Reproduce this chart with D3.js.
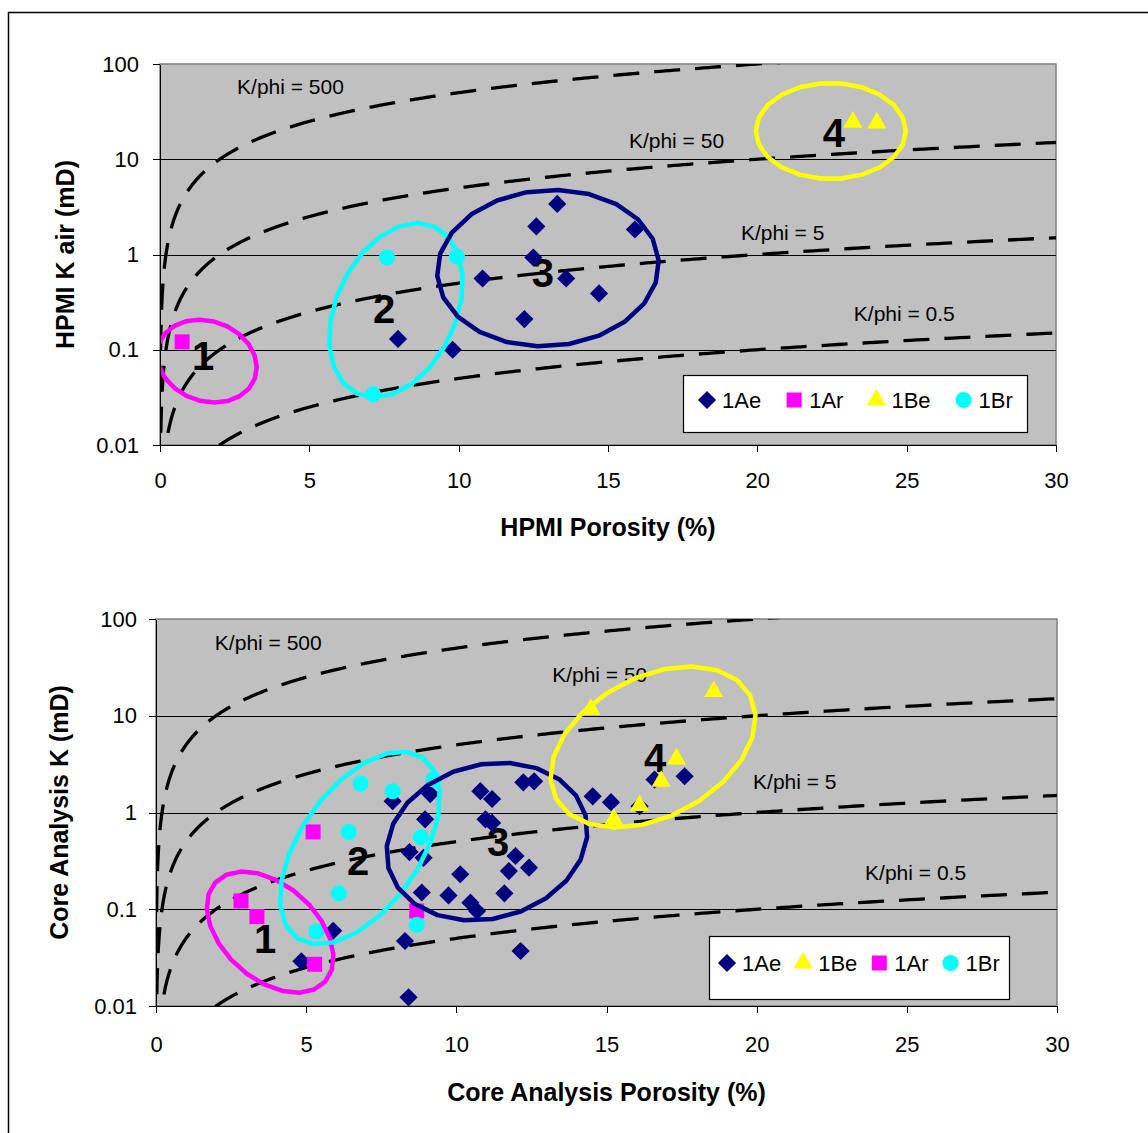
<!DOCTYPE html>
<html lang="en">
<head>
<meta charset="UTF-8">
<title>K vs porosity</title>
<script src="https://cdn.jsdelivr.net/npm/d3@7/dist/d3.min.js"></script>
<style>
  body { margin: 0; background: #fff; }
  svg { display: block; font-family: "Liberation Sans", Arial, sans-serif; }
  .axis path, .axis line { stroke: #000; shape-rendering: crispEdges; }
  .axis text { font-size: 22px; fill: #000; font-family: "Liberation Sans", Arial, sans-serif; }
</style>
</head>
<body>
<script>
var phiTicks = [0, 5, 10, 15, 20, 25, 30];
var kTicks = [0.01, 0.1, 1, 10, 100];
var kphiLevels = [500, 50, 5, 0.5];

// HPMI panel (top)
var hpmiAePhi = [7.97, 9.8, 10.8, 12.2, 12.5, 12.6, 13.3, 13.6, 14.7, 15.9];
var hpmiAeK   = [0.13, 0.1, 0.56, 0.21, 0.93, 1.97, 3.4, 0.56, 0.39, 1.83];
var hpmiArPhi = [0.74];
var hpmiArK   = [0.121];
var hpmiBePhi = [23.2, 24.0];
var hpmiBeK   = [24.5, 24];
var hpmiBrPhi = [7.6, 9.94, 7.13];
var hpmiBrK   = [0.93, 0.95, 0.034];

// Core analysis panel (bottom)
var coreAePhi = [7.88, 9.13, 8.96, 8.44, 8.91, 10.13, 8.85, 9.74, 10.47, 10.69, 5.9, 4.84, 8.29, 8.41,
                 10.8, 11.19, 10.97, 11.19, 12.23, 12.59, 11.97, 11.75, 12.42, 11.6, 12.14,
                 14.54, 15.15, 16.1, 16.6, 17.6];
var coreAeK   = [1.31, 1.55, 0.85, 0.39, 0.34, 0.23, 0.149, 0.139, 0.117, 0.096, 0.06, 0.029, 0.047, 0.0123,
                 1.66, 1.38, 0.85, 0.78, 2.05, 2.1, 0.355, 0.248, 0.269, 0.146, 0.037,
                 1.47, 1.28, 1.16, 2.19, 2.37];
var coreArPhi = [5.23, 2.83, 3.36, 5.28, 8.68];
var coreArK   = [0.63, 0.122, 0.084, 0.027, 0.096];
var coreBePhi = [14.48, 18.57, 17.33, 16.82, 16.1, 15.24];
var coreBeK   = [11.7, 17.8, 3.58, 2.1, 1.18, 0.85];
var coreBrPhi = [6.81, 7.88, 6.42, 6.09, 5.34, 8.82, 8.68, 9.24];
var coreBrK   = [1.99, 1.66, 0.63, 0.146, 0.059, 0.556, 0.069, 2.19];

// group rings: label, centre (phi, K)
var groupLabels = ["1", "2", "3", "4"];
var hpmiGroupPhi = [1.57, 7.9, 12.99, 22.46];
var hpmiGroupK   = [0.076, 0.26, 0.72, 19.8];
var hpmiNumPhi = [1.44, 7.5, 12.82, 22.56];
var hpmiNumK   = [0.086, 0.268, 0.65, 18.9];
var coreGroupPhi = [3.8, 6.79, 11.02, 16.55];
var coreGroupK   = [0.058, 0.43, 0.5, 4.75];
var coreNumPhi = [3.63, 6.73, 11.39, 16.62];
var coreNumK   = [0.05, 0.32, 0.5, 3.66];

// K/phi label anchors
var hpmiKphiPhi = [2.58, 15.7, 19.45, 23.23];
var hpmiKphiK   = [57.3, 15.6, 1.68, 0.237];
var coreKphiPhi = [1.96, 13.19, 19.88, 23.61];
var coreKphiK   = [56.5, 26.4, 2.07, 0.237];

var ringColors = ["#ff00ff", "#00ffff", "#000080", "#ffff00"];

var styles = {
  "1Ae": { type: "diamond", color: "#000080" },
  "1Ar": { type: "square", color: "#ff00ff" },
  "1Be": { type: "triangle", color: "#ffff00" },
  "1Br": { type: "circle", color: "#00ffff" }
};

var W = 1148, H = 1133;
var svg = d3.select("body").append("svg").attr("width", W).attr("height", H);

// outer frame
svg.append("rect").attr("x", 8.5).attr("y", 12.5).attr("width", 1200).attr("height", 1200)
  .attr("fill", "none").attr("stroke", "#000").attr("stroke-width", 1.5);

function zip(a, b) { return a.map(function(v, i) { return [v, b[i]]; }); }

function symbolPath(type) {
  if (type === "diamond") return d3.symbol(d3.symbolSquare, 165)();
  if (type === "square") return d3.symbol(d3.symbolSquare, 225)();
  if (type === "triangle") return d3.symbol(d3.symbolTriangle, 160)();
  return d3.symbol(d3.symbolCircle, 205)();
}

function drawPanel(p) {
  var g = svg.append("g");
  var x = d3.scaleLinear().domain([0, 30]).range([p.left, p.right]);
  var y = d3.scaleLog().domain([0.01, 100]).range([p.bottom, p.top]);

  g.append("rect").attr("x", p.left).attr("y", p.top)
    .attr("width", p.right - p.left).attr("height", p.bottom - p.top)
    .attr("fill", "#c0c0c0").attr("stroke", "#808080").attr("stroke-width", 1.5);

  g.selectAll(".grid").data([0.1, 1, 10]).enter().append("line")
    .attr("x1", p.left).attr("x2", p.right)
    .attr("y1", function(d) { return Math.round(y(d)) + 0.5; })
    .attr("y2", function(d) { return Math.round(y(d)) + 0.5; })
    .attr("stroke", "#000").attr("stroke-width", 1);

  g.append("clipPath").attr("id", p.id + "clip").append("rect")
    .attr("x", p.left).attr("y", p.top)
    .attr("width", p.right - p.left).attr("height", p.bottom - p.top);

  var plot = g.append("g").attr("clip-path", "url(#" + p.id + "clip)");

  // group numbers
  plot.selectAll(".num").data(groupLabels).enter().append("text")
    .attr("x", function(d, i) { return x(p.numPhi[i]); })
    .attr("y", function(d, i) { return y(p.numK[i]); })
    .attr("dy", "0.36em").attr("text-anchor", "middle")
    .attr("font-size", 40).attr("font-weight", "bold").attr("fill", "#000")
    .text(function(d) { return d; });

  // K/phi reference curves, K = c * phi(fraction)
  var phiSamples = d3.range(-3.2, 1.48, 0.004).map(function(e) { return Math.pow(10, e); });
  phiSamples.push(30);
  var line = d3.line().x(function(d) { return x(d[0]); }).y(function(d) { return y(d[1]); });
  plot.selectAll(".kphi").data(kphiLevels).enter().append("path")
    .attr("d", function(c) {
      return line(phiSamples.map(function(ph) { return [ph, c * ph / 100]; })
        .filter(function(d) { return d[1] >= 0.005 && d[1] <= 200; }));
    })
    .attr("fill", "none").attr("stroke", "#000").attr("stroke-width", 3.3)
    .attr("stroke-dasharray", "26,15");

  plot.selectAll(".kphilab").data(kphiLevels).enter().append("text")
    .attr("x", function(d, i) { return x(p.kphiPhi[i]); })
    .attr("y", function(d, i) { return y(p.kphiK[i]); })
    .attr("dy", "0.35em").attr("font-size", 21).attr("fill", "#000")
    .text(function(d) { return "K/phi = " + d; });

  // axes
  var xAxis = d3.axisBottom(x).tickValues(phiTicks).tickSize(7).tickSizeOuter(0).tickPadding(p.xPad);
  g.append("g").attr("class", "axis").attr("transform", "translate(0," + p.bottom + ")").call(xAxis);
  var yAxis = d3.axisLeft(y).tickValues(kTicks).tickSize(7).tickSizeOuter(0).tickPadding(p.yPad)
    .tickFormat(function(d) { return String(d); });
  g.append("g").attr("class", "axis").attr("transform", "translate(" + p.left + ",0)").call(yAxis);

  // markers
  p.series.forEach(function(s) {
    var st = styles[s.name];
    plot.selectAll(null).data(zip(s.phi, s.k)).enter().append("path")
      .attr("d", symbolPath(st.type))
      .attr("transform", function(d) {
        return "translate(" + x(d[0]) + "," + y(d[1]) + ")" + (st.type === "diamond" ? " rotate(45)" : "");
      })
      .attr("fill", st.color);
  });

  // group rings
  var ringLine = d3.line().curve(d3.curveLinearClosed);
  plot.selectAll(".ring").data(p.rings).enter().append("path")
    .attr("d", function(r, i) {
      var cx = x(p.ringPhi[i]), cy = y(p.ringK[i]);
      var a = r[0], b = r[1], rot = r[2] * Math.PI / 180;
      var pts = d3.range(22).map(function(j) {
        var t = 2 * Math.PI * j / 22;
        var ex = a * Math.cos(t), ey = b * Math.sin(t);
        return [cx + ex * Math.cos(rot) - ey * Math.sin(rot), cy + ex * Math.sin(rot) + ey * Math.cos(rot)];
      });
      return ringLine(pts);
    })
    .attr("fill", "none")
    .attr("stroke", function(r, i) { return ringColors[i]; })
    .attr("stroke-width", 4.5).attr("stroke-linejoin", "round");

  // titles
  g.append("text").attr("x", (p.left + p.right) / 2).attr("y", p.xTitleY).attr("dy", "0.35em")
    .attr("text-anchor", "middle").attr("font-size", 25).attr("font-weight", "bold")
    .text(p.xTitle);
  g.append("text").attr("transform", "translate(" + p.yTitleX + "," + (p.top + p.bottom) / 2 + ") rotate(-90)")
    .attr("dy", "0.35em").attr("text-anchor", "middle").attr("font-size", 25).attr("font-weight", "bold")
    .text(p.yTitle);

  // legend
  var lg = g.append("g");
  lg.append("rect").attr("x", p.legend.x + 0.5).attr("y", p.legend.y + 0.5)
    .attr("width", p.legend.w).attr("height", p.legend.h)
    .attr("fill", "#fff").attr("stroke", "#000").attr("stroke-width", 1.2);
  var cxPos = p.legend.x + p.legend.first;
  var ly = p.legend.y + p.legend.textY;
  p.legend.order.forEach(function(name) {
    var st = styles[name];
    lg.append("path").attr("d", symbolPath(st.type))
      .attr("transform", "translate(" + cxPos + "," + ly + ")" + (st.type === "diamond" ? " rotate(45)" : ""))
      .attr("fill", st.color);
    var t = lg.append("text").attr("x", cxPos + 15).attr("y", ly).attr("dy", "0.35em")
      .attr("font-size", 22).text(name);
    cxPos += 15 + t.node().getComputedTextLength() + p.legend.gap;
  });
}

drawPanel({
  id: "hpmi", left: 160, right: 1056, top: 64, bottom: 445,
  xPad: 20, yPad: 14, xTitleY: 527, yTitleX: 65,
  xTitle: "HPMI Porosity (%)", yTitle: "HPMI K air (mD)",
  numPhi: hpmiNumPhi, numK: hpmiNumK,
  kphiPhi: hpmiKphiPhi, kphiK: hpmiKphiK,
  ringPhi: hpmiGroupPhi, ringK: hpmiGroupK,
  rings: [[51, 40, 20], [92, 60, -65], [111, 78, -4], [75, 48, 0]],
  series: [
    { name: "1Ae", phi: hpmiAePhi, k: hpmiAeK },
    { name: "1Ar", phi: hpmiArPhi, k: hpmiArK },
    { name: "1Be", phi: hpmiBePhi, k: hpmiBeK },
    { name: "1Br", phi: hpmiBrPhi, k: hpmiBrK }
  ],
  legend: { x: 683, y: 375, w: 344, h: 57, first: 24, textY: 25, gap: 33, order: ["1Ae", "1Ar", "1Be", "1Br"] }
});

drawPanel({
  id: "core", left: 156, right: 1057, top: 619, bottom: 1006,
  xPad: 23, yPad: 12, xTitleY: 1092, yTitleX: 59,
  xTitle: "Core Analysis Porosity (%)", yTitle: "Core Analysis K (mD)",
  numPhi: coreNumPhi, numK: coreNumK,
  kphiPhi: coreKphiPhi, kphiK: coreKphiK,
  ringPhi: coreGroupPhi, ringK: coreGroupK,
  rings: [[74, 47, 42], [110, 60, -55], [102, 77, -15], [110, 70, -28]],
  series: [
    { name: "1Ae", phi: coreAePhi, k: coreAeK },
    { name: "1Ar", phi: coreArPhi, k: coreArK },
    { name: "1Be", phi: coreBePhi, k: coreBeK },
    { name: "1Br", phi: coreBrPhi, k: coreBrK }
  ],
  legend: { x: 709, y: 936, w: 300, h: 63, first: 18, textY: 27, gap: 22, order: ["1Ae", "1Be", "1Ar", "1Br"] }
});
</script>
</body>
</html>
